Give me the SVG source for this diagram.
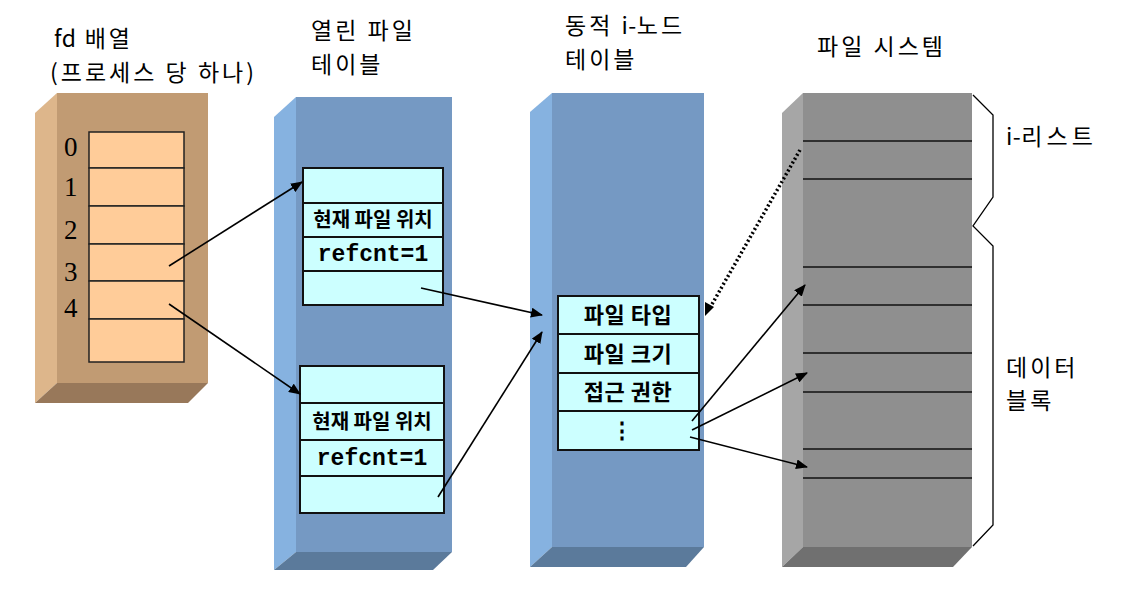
<svg xmlns="http://www.w3.org/2000/svg" width="1126" height="594" viewBox="0 0 1126 594">
<defs>
<style>
.title{font-family:"Noto Sans CJK KR","Liberation Sans",sans-serif;font-size:23px;fill:#000;letter-spacing:3px}
.lat{letter-spacing:0.5px}
.idx{font-family:"Liberation Serif",serif;font-size:27px;fill:#000}
.kr{font-family:"Noto Sans CJK KR",sans-serif;font-weight:bold;font-size:20px;fill:#000;text-anchor:middle}
.kr2{font-family:"Noto Sans CJK KR",sans-serif;font-weight:bold;font-size:22px;fill:#000;text-anchor:middle;letter-spacing:0.5px}
.mono{font-family:"Liberation Mono",monospace;font-weight:bold;font-size:23px;fill:#000;text-anchor:middle}
.cell{fill:#FFCC99;stroke:#222;stroke-width:1.5}
.box{fill:#CCFFFF;stroke:#111;stroke-width:2}
.sep{stroke:#111;stroke-width:2}
.fsl{stroke:#111;stroke-width:1.5}
.conn{stroke:#000;stroke-width:1.6;fill:none}
.dot{stroke:#000;stroke-width:3.5;stroke-dasharray:2 2.5;fill:none}
</style>
<marker id="ah" viewBox="0 0 12 10" refX="11" refY="5" markerWidth="12" markerHeight="10" markerUnits="userSpaceOnUse" orient="auto">
<path d="M0,0 L12,5 L0,10 Z" fill="#000"/>
</marker>
</defs>
<rect width="1126" height="594" fill="#fff"/>

<g id="titles">
<text class="title" x="54" y="47"><tspan class="lat">fd</tspan> 배열</text>
<text class="title" x="50" y="81">(프로세스 당 하나)</text>
<text class="title" x="311" y="39">열린 파일</text>
<text class="title" x="311" y="73">테이블</text>
<text class="title" x="565" y="34">동적 <tspan class="lat">i-</tspan>노드</text>
<text class="title" x="565" y="68">테이블</text>
<text class="title" x="817" y="55">파일 시스템</text>
</g>

<g id="fd-array">
<polygon points="35,113 57,93 57,383 35,403" fill="#DDB68B"/>
<polygon points="35,403 57,383 208,383 188,403" fill="#98785A"/>
<rect x="57" y="93" width="151" height="290" fill="#C19B73"/>
<rect class="cell" x="89" y="132" width="95" height="36"/>
<rect class="cell" x="89" y="168" width="95" height="38"/>
<rect class="cell" x="89" y="206" width="95" height="38"/>
<rect class="cell" x="89" y="244" width="95" height="37"/>
<rect class="cell" x="89" y="281" width="95" height="38"/>
<rect class="cell" x="89" y="319" width="95" height="43"/>
<text class="idx" x="64" y="156">0</text>
<text class="idx" x="64" y="196">1</text>
<text class="idx" x="64" y="239">2</text>
<text class="idx" x="64" y="281">3</text>
<text class="idx" x="64" y="317">4</text>
</g>

<g id="open-file-table">
<polygon points="274,117 296,97 296,552 274,570" fill="#86B2E0"/>
<polygon points="274,570 296,552 452,552 433,570" fill="#5B7A9B"/>
<rect x="296" y="97" width="156" height="455" fill="#7599C3"/>
</g>

<g id="entry1">
<rect class="box" x="303" y="168" width="140" height="137"/>
<line class="sep" x1="303" y1="203" x2="443" y2="203"/>
<line class="sep" x1="303" y1="237" x2="443" y2="237"/>
<line class="sep" x1="303" y1="271" x2="443" y2="271"/>
<text class="kr" x="373" y="227">현재 파일 위치</text>
<text class="mono" x="373" y="261">refcnt=1</text>
</g>

<g id="entry2">
<rect class="box" x="300" y="366" width="144" height="147"/>
<line class="sep" x1="300" y1="403" x2="444" y2="403"/>
<line class="sep" x1="300" y1="440" x2="444" y2="440"/>
<line class="sep" x1="300" y1="476" x2="444" y2="476"/>
<text class="kr" x="372" y="429">현재 파일 위치</text>
<text class="mono" x="372" y="465">refcnt=1</text>
</g>

<g id="inode-table">
<polygon points="530,112 552,93 552,547 530,567" fill="#86B2E0"/>
<polygon points="530,567 552,547 704,547 686,567" fill="#5B7A9B"/>
<rect x="552" y="93" width="152" height="454" fill="#7599C3"/>
</g>

<g id="inode">
<rect class="box" x="558" y="296" width="141" height="154"/>
<line class="sep" x1="558" y1="334" x2="699" y2="334"/>
<line class="sep" x1="558" y1="373" x2="699" y2="373"/>
<line class="sep" x1="558" y1="411" x2="699" y2="411"/>
<text class="kr2" x="628" y="323">파일 타입</text>
<text class="kr2" x="628" y="362">파일 크기</text>
<text class="kr2" x="628" y="400">접근 권한</text>
<text class="kr2" x="622" y="438">⋮</text>
</g>

<g id="file-system">
<polygon points="782,113 803,93 803,547 782,567" fill="#A6A6A6"/>
<polygon points="782,567 803,547 972,547 953,567" fill="#707070"/>
<rect x="803" y="93" width="169" height="454" fill="#8F8F8F"/>
<line class="fsl" x1="803" y1="141" x2="972" y2="141"/>
<line class="fsl" x1="803" y1="179" x2="972" y2="179"/>
<line class="fsl" x1="803" y1="267" x2="972" y2="267"/>
<line class="fsl" x1="803" y1="305" x2="972" y2="305"/>
<line class="fsl" x1="803" y1="353" x2="972" y2="353"/>
<line class="fsl" x1="803" y1="392" x2="972" y2="392"/>
<line class="fsl" x1="803" y1="449" x2="972" y2="449"/>
<line class="fsl" x1="803" y1="478" x2="972" y2="478"/>
</g>

<g id="braces">
<polyline points="973,95 993,115 993,197 973,226 993,246 993,525 973,546" fill="none" stroke="#000" stroke-width="1.3"/>
<text class="title" x="1006" y="145" style="letter-spacing:4px"><tspan class="lat">i-</tspan>리스트</text>
<text class="title" x="1006" y="376">데이터</text>
<text class="title" x="1006" y="409">블록</text>
</g>

<g id="connectors">
<line class="conn" x1="169" y1="266" x2="302" y2="182" marker-end="url(#ah)"/>
<line class="conn" x1="169" y1="304" x2="300" y2="394" marker-end="url(#ah)"/>
<line class="conn" x1="421" y1="288" x2="542" y2="315" marker-end="url(#ah)"/>
<line class="conn" x1="438" y1="497" x2="542" y2="332" marker-end="url(#ah)"/>
<line class="dot" x1="800" y1="150" x2="711" y2="306"/>
<polygon points="705,316 705,302 714,307" fill="#000"/>
<line class="conn" x1="692" y1="421" x2="805" y2="285" marker-end="url(#ah)"/>
<line class="conn" x1="692" y1="430" x2="807" y2="373" marker-end="url(#ah)"/>
<line class="conn" x1="690" y1="437" x2="807" y2="467" marker-end="url(#ah)"/>
</g>
</svg>
